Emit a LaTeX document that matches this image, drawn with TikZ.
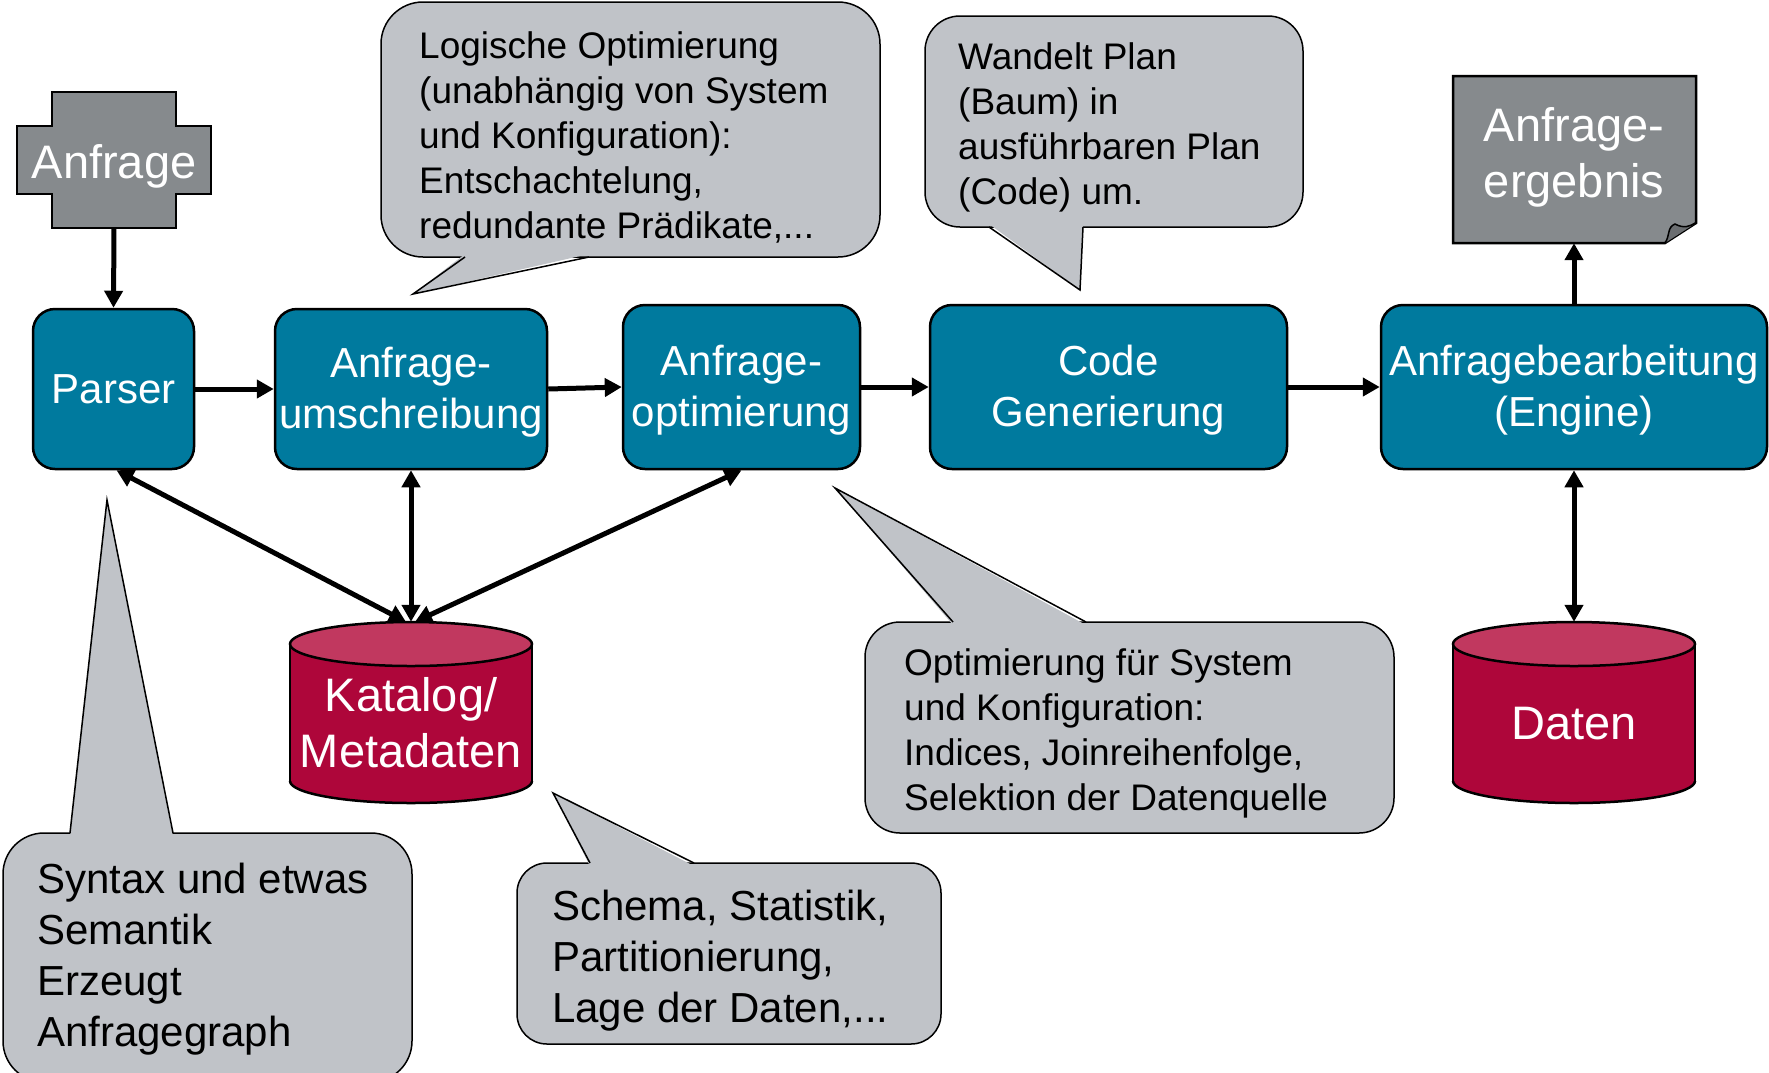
\documentclass[tikz,border=0pt]{standalone}
\usepackage{fontspec}
\setmainfont{Liberation Sans}
\usetikzlibrary{arrows.meta}

\definecolor{procblue}{RGB}{0,122,158}
\definecolor{docgray}{RGB}{134,138,141}
\definecolor{bubblegray}{RGB}{192,195,200}
\definecolor{cylbody}{RGB}{174,6,58}
\definecolor{cyltop}{RGB}{193,56,95}

% centred lines, set a little below the middle of their box
\newcommand{\steplabel}[1]{\raisebox{0pt}[\dimexpr\height+8pt\relax][\depth]{\begin{tabular}{@{}c@{}}#1\end{tabular}}}

\begin{document}
\begin{tikzpicture}[x=1pt,y=-1pt,
  proc/.style={draw=black, line width=2.5pt, fill=procblue, rounded corners=22pt,
    text=white, inner sep=0pt, font={\fontsize{42}{51}\selectfont}},
  bigtext/.style={text=white, align=center, inner sep=0pt, font={\fontsize{47}{56}\selectfont}},
  shapeline/.style={draw=black, line width=2.5pt},
  flow/.style={line width=5pt, -{Triangle[length=17pt,width=18pt]}},
  both/.style={line width=5pt, {Triangle[length=17pt,width=18pt]}-{Triangle[length=17pt,width=18pt]}},
  bubble/.style={draw=black, line width=1.5pt, fill=bubblegray},
  bubbleline/.style={draw=black, line width=1.5pt},
  smallnote/.style={anchor=west, align=left, inner sep=0pt, text=black, font={\fontsize{37}{45}\selectfont}},
  bignote/.style={anchor=west, align=left, inner sep=0pt, text=black, font={\fontsize{42}{51}\selectfont}}
]
\useasboundingbox (0,0) rectangle (1769,1072);

% ---- input query (plus shape) ----
\filldraw[shapeline, fill=docgray] (52,92) -- (176,92) -- (176,126) -- (211,126) -- (211,194)
  -- (176,194) -- (176,228) -- (52,228) -- (52,194) -- (17,194) -- (17,126) -- (52,126) -- cycle;
\node[bigtext, minimum width=124pt, minimum height=124pt] (query) at (114,166) {Anfrage};

% ---- result document with folded corner ----
\filldraw[shapeline, fill=docgray] (1453,76) -- (1696,76) -- (1696,223) -- (1665,243) -- (1453,243) -- cycle;
\filldraw[line width=1.5pt, fill=docgray!80!black] (1665,243) .. controls (1670,236) and (1667,227) .. (1675,224)
  .. controls (1684,229) and (1690,226) .. (1696,223);
\node[bigtext, minimum width=243pt, minimum height=172pt] (result) at (1574,157) {Anfrage-\\ergebnis};

% ---- catalog cylinder ----
\fill[cylbody] (290,644) rectangle (532,781);
\fill[cylbody] (411,781) ellipse [x radius=121, y radius=22];
\begin{scope}
  \clip (280,781) rectangle (545,812);
  \draw[shapeline] (411,781) ellipse [x radius=121, y radius=22];
\end{scope}
\draw[shapeline] (290,644) -- (290,781) (532,644) -- (532,781);
\filldraw[shapeline, fill=cyltop] (411,644) ellipse [x radius=121, y radius=22];
\node[bigtext, minimum width=242pt, minimum height=202pt] (catalog) at (411,723) {Katalog/\\Metadaten};

% ---- data cylinder ----
\fill[cylbody] (1453,644) rectangle (1695,781);
\fill[cylbody] (1574,781) ellipse [x radius=121, y radius=22];
\begin{scope}
  \clip (1443,781) rectangle (1708,812);
  \draw[shapeline] (1574,781) ellipse [x radius=121, y radius=22];
\end{scope}
\draw[shapeline] (1453,644) -- (1453,781) (1695,644) -- (1695,781);
\filldraw[shapeline, fill=cyltop] (1574,644) ellipse [x radius=121, y radius=22];
\node[bigtext, minimum width=242pt, minimum height=204pt] (data) at (1574,724) {Daten};

% ---- processing steps ----
\node[proc, minimum width=161pt, minimum height=160pt] (parser) at (113.5,389) {\steplabel{Parser}};
\node[proc, minimum width=272pt, minimum height=160pt] (rewrite) at (411,389) {\steplabel{Anfrage-\\umschreibung}};
\node[proc, minimum width=237pt, minimum height=164pt] (optim) at (741.5,387) {\steplabel{Anfrage-\\optimierung}};
\node[proc, minimum width=357pt, minimum height=164pt] (codegen) at (1108.5,387) {\steplabel{Code\\Generierung}};
\node[proc, minimum width=386pt, minimum height=164pt] (engine) at (1574,387) {\steplabel{Anfragebearbeitung\\(Engine)}};

% ---- connectors ----
\draw[flow] (query.south) -- (parser.north);
\draw[flow] (parser.east) -- (rewrite.west);
\draw[flow] (rewrite.east) -- (optim.west);
\draw[flow] (optim.east) -- (codegen.west);
\draw[flow] (codegen.east) -- (engine.west);
\draw[flow] (engine.north) -- (result.south);
\draw[both] (engine.south) -- (data.north);
\draw[both] ([xshift=3pt]parser.south) -- ([xshift=-5pt]catalog.north);
\draw[both] (rewrite.south) -- (catalog.north);
\draw[both] (optim.south) -- ([xshift=4pt]catalog.north);

% ---- callout: logical optimisation ----
\filldraw[bubble, rounded corners=42pt] (381,2) rectangle (880,257);
\fill[bubblegray] (465,254) -- (413,294) -- (589,254) -- cycle;
\draw[bubbleline] (465,257) -- (413,294) -- (589,257);
\node[smallnote] (notelogic) at (419,137) {Logische Optimierung\\(unabhängig von System\\und Konfiguration):\\Entschachtelung,\\redundante Prädikate,...};

% ---- callout: code generation ----
\filldraw[bubble, rounded corners=35pt] (925,16) rectangle (1303,227);
\fill[bubblegray] (989,224) -- (1080,290) -- (1083,224) -- cycle;
\draw[bubbleline] (989,227) -- (1080,290) -- (1083,227);
\node[smallnote] (notecode) at (958,127) {Wandelt Plan\\(Baum) in\\ausführbaren Plan\\(Code) um.};

% ---- callout: physical optimisation ----
\filldraw[bubble, rounded corners=35pt] (865,622) rectangle (1394,833);
\fill[bubblegray] (953,625) -- (835,488) -- (1086,625) -- cycle;
\draw[bubbleline] (953,622) -- (835,488) -- (1086,622);
\node[smallnote] (notephys) at (904,733) {Optimierung für System\\und Konfiguration:\\Indices, Joinreihenfolge,\\Selektion der Datenquelle};

% ---- callout: catalog contents ----
\filldraw[bubble, rounded corners=30pt] (517,863) rectangle (941,1044);
\fill[bubblegray] (590,866) -- (553,793) -- (694,866) -- cycle;
\draw[bubbleline] (590,863) -- (553,793) -- (694,863);
\node[bignote] (notecat) at (552,961) {Schema, Statistik,\\Partitionierung,\\Lage der Daten,...};

% ---- callout: parser ----
\filldraw[bubble, rounded corners=41pt] (3,833) rectangle (412,1082);
\fill[bubblegray] (70,836) -- (107,500) -- (173,836) -- cycle;
\draw[bubbleline] (70,833) -- (107,500) -- (173,833);
\node[bignote] (noteparse) at (37,959) {Syntax und etwas\\Semantik\\Erzeugt\\Anfragegraph};

\end{tikzpicture}
\end{document}
